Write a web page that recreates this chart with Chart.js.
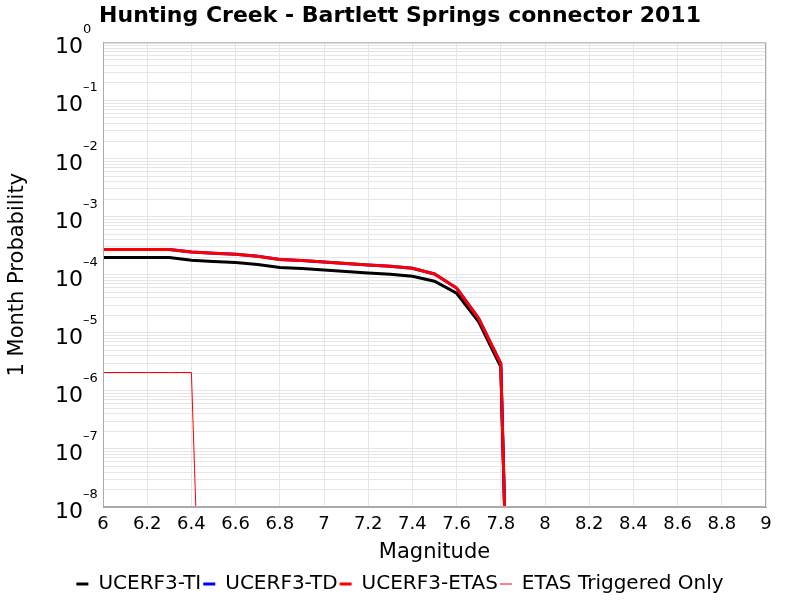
<!DOCTYPE html>
<html lang="en">
<head>
<meta charset="UTF-8">
<title>Hunting Creek - Bartlett Springs connector 2011</title>
<script src="https://cdn.jsdelivr.net/npm/chart.js"></script>
<style>
    html, body { margin: 0; padding: 0; background: #ffffff; }
    canvas { display: block; }
</style>
</head>
<body>
<canvas id="myChart" width="800" height="600"></canvas>
<script>
// magnitude bins
const magnitudes = [6.0, 6.1, 6.2, 6.3, 6.4, 6.5, 6.6, 6.7, 6.8, 6.9, 7.0, 7.1, 7.2, 7.3, 7.4, 7.5, 7.6, 7.7, 7.8, 7.9];
// 1 month probabilities (last bin falls far below the axis)
const probTI   = [1.98e-4, 1.98e-4, 1.98e-4, 1.98e-4, 1.78e-4, 1.69e-4, 1.62e-4, 1.50e-4, 1.33e-4, 1.28e-4, 1.21e-4, 1.13e-4, 1.07e-4, 1.02e-4, 9.4e-5, 7.7e-5, 4.8e-5, 1.54e-5, 2.6e-6, 1e-20];
const probTD   = [2.72e-4, 2.72e-4, 2.72e-4, 2.72e-4, 2.47e-4, 2.34e-4, 2.25e-4, 2.08e-4, 1.83e-4, 1.76e-4, 1.66e-4, 1.56e-4, 1.47e-4, 1.40e-4, 1.29e-4, 1.03e-4, 5.9e-5, 1.76e-5, 2.95e-6, 1e-20];
const probETAS = [2.72e-4, 2.72e-4, 2.72e-4, 2.72e-4, 2.47e-4, 2.34e-4, 2.25e-4, 2.08e-4, 1.83e-4, 1.76e-4, 1.66e-4, 1.56e-4, 1.47e-4, 1.40e-4, 1.29e-4, 1.03e-4, 5.9e-5, 1.76e-5, 2.95e-6, 1e-20];
const trigMagnitudes = [6.0, 6.1, 6.2, 6.3, 6.4, 6.5];
const probTriggered  = [2.07e-6, 2.07e-6, 2.07e-6, 2.07e-6, 2.07e-6, 5e-18];

const seriesNames = ['UCERF3-TI', 'UCERF3-TD', 'UCERF3-ETAS', 'ETAS Triggered Only'];
const yExponents = [-8, -7, -6, -5, -4, -3, -2, -1, 0];
const yMantissas = [1, 2, 3, 4, 5, 6, 7, 8, 9];

const FONT = '"DejaVu Sans", "Lucida Grande", sans-serif';

function toPoints(xs, ys) {
    return xs.map((x, i) => ({ x: x, y: ys[i] }));
}

// plot frame + "10^n" tick labels with a small raised exponent
const frameAndLabels = {
    id: 'frameAndLabels',
    afterDraw(chart) {
        const ctx = chart.ctx;
        const a = chart.chartArea;
        const y = chart.scales.y;
        ctx.save();
        ctx.strokeStyle = '#aaaaaa';
        ctx.lineWidth = 1;
        ctx.strokeRect(a.left + 0.5, a.top + 0.5, a.right - a.left - 1, a.bottom - a.top - 1);
        ctx.fillStyle = '#000000';
        yExponents.forEach(e => {
            const py = y.getPixelForValue(Math.pow(10, e));
            ctx.font = '22px ' + FONT;
            ctx.textAlign = 'right';
            ctx.textBaseline = 'alphabetic';
            ctx.fillText('10', a.left - 20, py + 11);
            ctx.font = '13px ' + FONT;
            ctx.textAlign = 'left';
            ctx.fillText(e === 0 ? '0' : '\u2013' + Math.abs(e), a.left - 20, py - 9);
        });
        ctx.restore();
    }
};

const ctx = document.getElementById('myChart').getContext('2d');
const myChart = new Chart(ctx, {
    type: 'line',
    data: {
        datasets: [
            {
                label: seriesNames[0],
                data: toPoints(magnitudes, probTI),
                borderColor: '#000000',
                backgroundColor: '#000000',
                borderWidth: 3,
                order: 4
            },
            {
                label: seriesNames[1],
                data: toPoints(magnitudes, probTD),
                borderColor: '#0000ff',
                backgroundColor: '#0000ff',
                borderWidth: 3,
                order: 3
            },
            {
                label: seriesNames[2],
                data: toPoints(magnitudes, probETAS),
                borderColor: '#ff0000',
                backgroundColor: '#ff0000',
                borderWidth: 3,
                order: 2
            },
            {
                label: seriesNames[3],
                data: toPoints(trigMagnitudes, probTriggered),
                borderColor: '#ff0000',
                backgroundColor: '#ff0000',
                borderWidth: 1,
                order: 1
            }
        ]
    },
    options: {
        responsive: false,
        animation: false,
        elements: {
            point: { radius: 0, hoverRadius: 0 },
            line: { tension: 0, fill: false }
        },
        layout: { padding: { top: 0, left: 0, right: 0, bottom: -4 } },
        plugins: {
            tooltip: { enabled: false },
            title: {
                display: true,
                text: 'Hunting Creek - Bartlett Springs connector 2011',
                color: '#000000',
                font: { family: FONT, size: 22, weight: 'bold' },
                padding: { top: 3, bottom: 13 }
            },
            legend: {
                position: 'bottom',
                labels: {
                    color: '#000000',
                    font: { family: FONT, size: 20 },
                    usePointStyle: true,
                    pointStyle: 'line',
                    pointStyleWidth: 12,
                    padding: 2,
                    sort: (a, b) => a.datasetIndex - b.datasetIndex
                }
            }
        },
        scales: {
            x: {
                type: 'linear',
                min: 6,
                max: 9,
                border: { color: '#aaaaaa' },
                grid: { color: '#e6e6e6', drawTicks: false },
                ticks: {
                    stepSize: 0.2,
                    autoSkip: false,
                    maxRotation: 0,
                    padding: 7,
                    color: '#000000',
                    font: { family: FONT, size: 18 },
                    callback: v => Number(v.toFixed(1)).toString()
                },
                title: {
                    display: true,
                    text: 'Magnitude',
                    color: '#000000',
                    font: { family: FONT, size: 21 },
                    padding: { top: 2, bottom: 7 }
                },
                afterFit: scale => { scale.height = 604 - 507 - scale.chart.legend.height; }
            },
            y: {
                type: 'logarithmic',
                min: 1e-8,
                max: 1,
                border: { color: '#aaaaaa' },
                grid: { color: '#e6e6e6', drawTicks: false },
                ticks: { display: false },
                afterBuildTicks: scale => {
                    const ticks = [];
                    yExponents.forEach(e => {
                        yMantissas.forEach(m => {
                            if (e === 0 && m > 1) return;
                            ticks.push({ value: m * Math.pow(10, e) });
                        });
                    });
                    scale.ticks = ticks;
                },
                afterFit: scale => { scale.width = 103; },
                title: {
                    display: true,
                    text: '1 Month Probability',
                    color: '#000000',
                    font: { family: FONT, size: 21 },
                    padding: { top: 5, bottom: 0 }
                }
            },
            // empty right-hand margin so the plot stops short of the edge
            gap: {
                type: 'linear',
                position: 'right',
                grid: { display: false },
                border: { display: false },
                ticks: { display: false },
                afterFit: scale => { scale.width = 34; }
            }
        }
    },
    plugins: [frameAndLabels]
});
</script>
</body>
</html>
